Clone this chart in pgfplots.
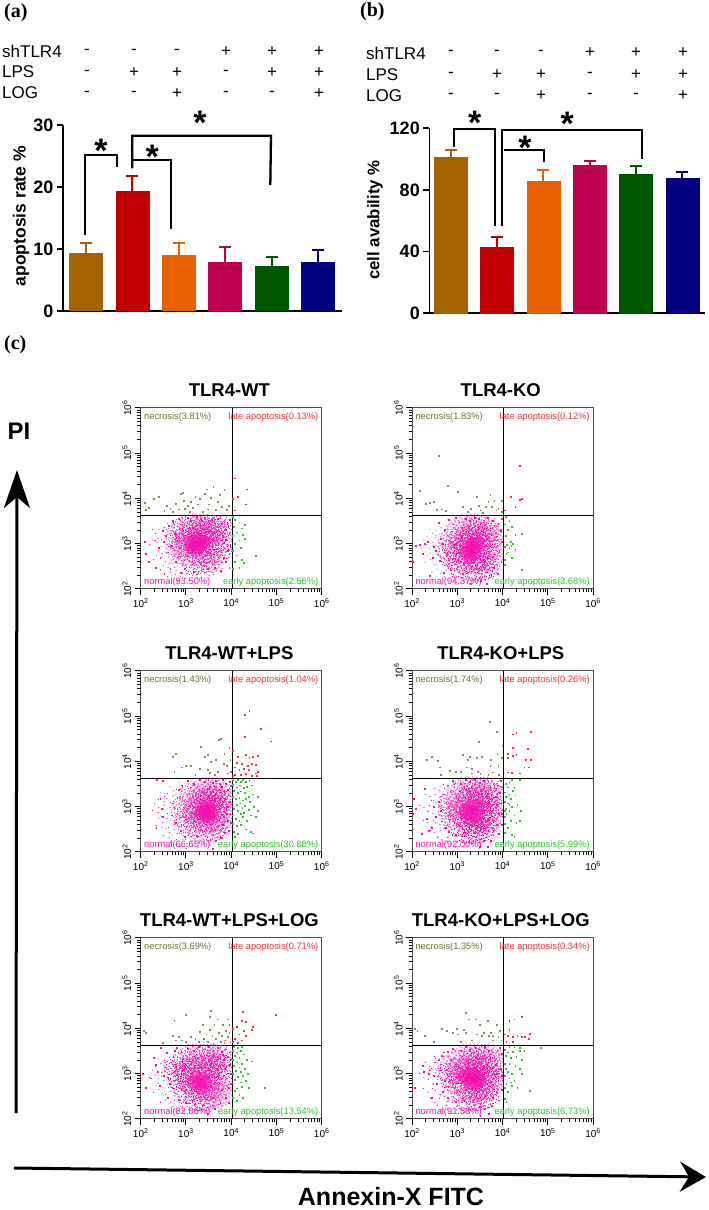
\documentclass[border=0pt]{standalone}
\usepackage{fontspec}
\setmainfont{Liberation Sans}
\newfontfamily\panelfont{Liberation Serif}
\usepackage{pgfplots}
\usepackage{pgfplotstable}
\pgfplotsset{compat=1.18}
\usetikzlibrary{arrows.meta}

\definecolor{cbrown}{HTML}{A56200}
\definecolor{cred}{HTML}{C00000}
\definecolor{corange}{HTML}{E86000}
\definecolor{cpink}{HTML}{BE0050}
\definecolor{cgreen}{HTML}{005500}
\definecolor{cnavy}{HTML}{000080}
\definecolor{fcN}{HTML}{F010AE}
\definecolor{fcO}{HTML}{6F6F30}
\definecolor{fcL}{HTML}{F0303C}
\definecolor{fcE}{HTML}{2EC22E}

% the dense clouds can't be read dot by dot: each row in the "C" and "W" tables is a
% hand-placed patch of the cloud, drawn with these stipple marks, "A" rows are the solid core
\def\sd#1#2{\pgfpathrectangle{\pgfpoint{#1pt}{#2pt}}{\pgfqpoint{0.95pt}{0.95pt}}}
\pgfdeclareplotmark{stipple}{%
  \sd{-10}{2}\sd{-8}{-5}\sd{-7}{6}\sd{-6}{-9}\sd{-5}{1}\sd{-4}{9}\sd{-3}{-3}\sd{-2}{5}\sd{-1}{-11}\sd{0}{-6}
  \sd{0}{2}\sd{1}{10}\sd{2}{-2}\sd{3}{6}\sd{4}{-9}\sd{4}{1}\sd{5}{-5}\sd{6}{9}\sd{7}{-1}\sd{8}{4}
  \sd{9}{-7}\sd{10}{0}\sd{-11}{-2}\sd{-9}{8}\sd{2}{-12}\sd{-3}{12}\sd{11}{6}\sd{6}{-11}\sd{-7}{-11}\sd{-1}{-1}
  \pgfusepathqfill}
\pgfdeclareplotmark{stippleb}{%
  \sd{-12}{-1}\sd{-10}{5}\sd{-9}{-3}\sd{-8}{-8}\sd{-7}{3}\sd{-6}{10}\sd{-5}{-5}\sd{-4}{5}\sd{-3}{-11}\sd{-2}{-2}
  \sd{-1}{7}\sd{-1}{-7}\sd{1}{0}\sd{1}{12}\sd{2}{4}\sd{3}{-5}\sd{3}{-12}\sd{5}{2}\sd{5}{8}\sd{6}{-2}
  \sd{7}{-8}\sd{8}{6}\sd{9}{1}\sd{10}{-4}\sd{11}{3}\sd{-5}{-12}\sd{-11}{7}\sd{7}{11}\sd{12}{-1}\sd{-2}{1}
  \pgfusepathqfill}
\pgfdeclareplotmark{stipplew}{%
  \sd{-42}{3}\sd{-38}{-12}\sd{-36}{14}\sd{-33}{-3}\sd{-31}{-22}\sd{-30}{8}\sd{-27}{20}\sd{-26}{-14}\sd{-24}{-29}\sd{-23}{1}
  \sd{-21}{12}\sd{-20}{-7}\sd{-18}{24}\sd{-17}{-20}\sd{-15}{6}\sd{-14}{-33}\sd{-13}{-11}\sd{-11}{17}\sd{-9}{-26}\sd{-8}{-2}
  \sd{-6}{25}\sd{-5}{-17}\sd{-3}{9}\sd{-2}{-32}\sd{0}{-8}\sd{1}{20}\sd{3}{-24}\sd{5}{2}\sd{6}{-14}\sd{8}{14}
  \sd{10}{-30}\sd{11}{-5}\sd{13}{24}\sd{15}{-19}\sd{17}{6}\sd{19}{-10}\sd{20}{18}\sd{22}{-27}\sd{24}{-2}\sd{26}{11}
  \sd{27}{-17}\sd{29}{22}\sd{31}{-8}\sd{32}{4}
  \pgfusepathqfill}

% ---- TLR4-WT
\pgfplotstableread{
x y
1500 1000
1900 900
1300 800
2000 1100
}\wtW
\pgfplotstableread{
x y
1500 1150
1900 1200
1300 950
1700 1000
2200 950
1500 800
1900 800
2500 1150
}\wtA
\pgfplotstableread{
x y
650 1400
900 2000
1300 2300
1900 2300
2800 2300
4000 2200
5400 2100
800 900
1000 1300
1400 1700
2000 1900
2900 1900
4000 1700
5400 1300
650 650
1000 750
1400 1100
1900 1300
2400 1500
3000 1100
4200 1000
5400 700
1200 550
1800 600
2500 700
3400 650
1500 380
2300 420
3300 420
1000 1000
2000 900
}\wtC
\pgfplotstableread{
x y
120 1100
130 600
150 400
180 2100
200 1200
210 300
250 800
270 500
300 1900
320 1100
330 220
360 1500
400 650
420 2500
450 280
480 900
520 3300
560 1700
600 400
700 3600
750 230
850 3000
950 280
1100 3700
1300 3300
1500 240
1700 3900
2100 3500
2600 3700
3000 280
3700 3400
4300 300
5000 3600
6100 2800
6600 1500
7000 3000
7500 2000
8000 1200
8300 700
8600 2500
9000 1700
9300 3400
9500 900
6800 500
7600 400
5800 250
9000 300
}\wtM
\pgfplotstableread{
x y
120 8000
130 5600
150 6300
190 9800
250 11000
330 5400
380 6800
450 6000
520 5000
600 7600
700 5800
750 12500
830 13500
900 9000
950 6000
1100 7000
1300 8500
1400 6200
1600 11000
1800 7500
2000 9800
2300 5000
2600 12500
2900 16000
3200 7500
3600 10500
4000 18000
4500 5600
5000 8500
5600 12000
6300 6500
7000 15500
7800 5600
8800 6800
1200 5200
3000 5800
}\wtN
\pgfplotstableread{
x y
12000 28000
22000 16000
11000 10000
14000 11000
21000 7500
12000 5500
}\wtL
\pgfplotstableread{
x y
11000 3900
12000 3400
15000 3000
20000 2600
11500 2400
17000 2200
13000 1800
18000 1600
11000 1500
15000 1200
20000 1300
12000 1000
16000 800
11000 700
13000 560
17000 450
12000 400
15000 300
11000 280
35000 550
19000 380
}\wtE

% ---- TLR4-KO
\pgfplotstableread{
x y
1700 800
1300 700
2000 650
1500 1000
}\koW
\pgfplotstableread{
x y
1700 900
2200 950
2700 1000
1600 650
2000 700
2400 600
1900 480
2400 800
}\koA
\pgfplotstableread{
x y
700 1100
1000 1700
1500 2300
2200 2300
3200 2300
4600 2000
5400 1500
650 600
900 800
1200 1200
1600 1400
2200 1500
3000 1600
4000 1200
5400 900
900 480
1200 700
1500 900
2000 1000
2700 1200
3300 800
4500 650
5400 500
1100 320
1500 400
2100 420
2800 480
3600 420
1700 270
2500 280
3500 290
4500 320
}\koC
\pgfplotstableread{
x y
105 400
120 900
150 950
170 600
190 1000
220 1100
240 200
280 500
300 850
330 700
380 2900
400 420
430 1300
470 1000
500 230
520 2000
580 600
640 3400
720 260
800 2700
900 3800
1100 3000
1300 220
1500 3600
1900 3300
2400 3800
3000 3500
3800 3000
4700 3700
6000 3200
6500 2500
7000 1800
7400 1200
8000 2800
8400 700
8900 1900
9300 400
9500 1100
6500 300
7700 220
5600 200
9500 3500
2000 130
3300 150
4500 130
}\koM
\pgfplotstableread{
x y
150 15000
240 8000
300 8500
380 88000
200 7600
450 5800
560 5400
620 19000
1000 14000
1300 6500
1700 5000
2000 6000
2700 11000
3000 7000
3300 5500
4200 6500
4800 8500
5300 12000
5700 6500
6500 9000
7200 5500
8000 6000
9400 5200
9700 9000
350 5600
3600 4800
}\koN
\pgfplotstableread{
x y
24000 52000
15000 11000
24000 9500
27000 10000
19000 6500
11000 5500
}\koL
\pgfplotstableread{
x y
11500 4000
14000 3300
11000 2700
16000 2400
13000 2000
26000 1700
11500 1500
19000 1600
15000 1100
12500 950
17000 1000
11000 850
14000 800
19000 750
12000 600
16000 500
11000 450
26000 270
13000 650
15500 900
11000 350
}\koE

% ---- TLR4-WT+LPS
\pgfplotstableread{
x y
2050 800
1700 1000
2000 620
1500 700
}\wlW
\pgfplotstableread{
x y
2600 800
3300 900
2100 700
2800 650
3700 750
2400 950
3200 600
}\wlA
\pgfplotstableread{
x y
1000 1000
1300 1700
1800 2200
2600 2300
3700 2300
5000 2200
5500 1700
900 650
1300 1000
1800 1300
2300 1500
3100 1500
4000 1500
5400 1200
1000 450
1500 650
1900 900
2500 1100
3300 1100
4200 950
5500 800
1600 400
2200 500
2900 500
3700 550
5000 500
5500 350
2100 300
3000 300
4000 320
3000 800
4500 700
}\wlC
\pgfplotstableread{
x y
220 350
230 3900
270 1500
290 900
300 3800
300 600
480 650
520 1200
550 950
600 450
640 1600
700 2400
750 300
800 3000
950 220
1100 3700
1300 2700
1500 3300
1700 230
2000 3900
2600 3500
3100 3900
3900 3400
4600 3800
5500 3300
6200 2800
6600 3900
7000 2300
7300 1500
7500 3300
8000 1000
8300 2400
8500 500
8800 1800
9100 3600
9300 1300
9500 700
9700 2900
6400 400
7200 270
8900 300
9800 450
5800 210
3900 120
4500 180
6800 600
7800 700
8600 1000
}\wlM
\pgfplotstableread{
x y
500 13000
600 15000
550 6000
800 7500
1000 8000
1300 8000
1600 5000
2100 21000
2000 7000
2600 12500
3000 14000
3300 5600
3500 10000
4300 5000
5000 6000
5200 30000
5900 32000
4500 11000
6800 9000
7000 15000
8000 8000
8200 5500
9000 20000
9700 6000
9500 11000
3000 6500
}\wlN
\pgfplotstableread{
x y
20000 110000
25000 130000
44000 52000
20000 36000
75000 28000
11000 17000
14000 13000
21000 14000
25000 12000
30000 13000
38000 13500
35000 8500
13000 9500
17000 9000
23000 8000
28000 9000
12000 7500
19000 7000
15000 6500
24000 6500
35000 5500
39000 6000
12000 5000
16000 5200
21000 5300
29000 4900
36000 4800
11000 4800
}\wlL
\pgfplotstableread{
x y
11000 4000
12500 3600
14000 3900
16000 3500
18000 4000
21000 3500
25000 3700
28000 3000
11000 3100
13000 2700
15500 3000
18500 2600
22000 2800
25000 2200
11500 2300
14000 2000
16500 2200
20000 2000
24000 1700
30000 1900
38000 1700
11000 1700
12500 1500
15000 1600
18000 1400
21000 1500
26000 1300
32000 1000
11000 1200
13000 1100
15500 1200
17500 950
20000 1050
24000 850
38000 800
11500 900
14000 800
16000 700
19000 750
27000 650
11000 650
12500 550
15000 500
18000 600
22000 500
11000 420
13500 380
16000 400
21000 320
27000 280
11500 280
14000 250
12000 220
30000 260
35000 600
}\wlE

% ---- TLR4-KO+LPS
\pgfplotstableread{
x y
2000 900
1500 800
1800 650
1200 900
}\klW
\pgfplotstableread{
x y
1800 950
2300 1050
1700 700
2200 750
2800 900
2000 550
2700 600
1500 850
}\klA
\pgfplotstableread{
x y
700 1100
1000 1700
1400 2300
2000 2300
3000 2300
4300 2300
5400 2000
700 700
1000 1000
1300 1400
1900 1500
2700 1600
3600 1500
5000 1400
5400 900
900 550
1200 750
1500 1000
2400 1200
3200 1100
4300 900
5400 600
1100 400
1500 500
2000 400
2600 450
3500 600
4400 500
1800 280
2600 290
3500 320
4600 300
}\klC
\pgfplotstableread{
x y
105 700
110 1500
120 900
160 250
190 2500
210 550
230 300
270 350
300 1000
330 600
380 1300
420 800
450 480
500 1900
560 350
600 3000
650 280
800 3700
900 240
1200 3300
1500 3900
1900 3500
2400 3900
3100 3400
3900 3800
4800 3500
6200 3200
6500 2600
6900 1700
7300 1100
7700 3000
8100 700
8500 2000
8900 3700
9200 1200
9500 400
6200 300
7300 400
8200 250
9700 2700
9600 700
3100 130
3900 180
4700 130
5500 180
}\klM
\pgfplotstableread{
x y
210 11000
270 13000
370 10500
400 7500
430 5000
680 6200
900 6000
1200 6000
1300 14000
1600 7500
1700 11000
1900 13000
2100 7000
2100 5500
2800 6000
3000 27000
2700 12000
3200 5400
3500 13000
5200 75000
5300 8000
5500 11000
7500 45000
7600 15000
8000 8000
8300 5000
9800 22000
9500 12000
6000 5800
4800 5000
}\klN
\pgfplotstableread{
x y
17000 40000
20000 44000
42000 45000
17000 20000
36000 19000
13000 15000
17000 13500
20000 14000
13000 12000
33000 11000
42000 11000
30000 7500
37000 7500
13000 5800
16000 5600
24000 5500
}\klL
\pgfplotstableread{
x y
16000 4000
24000 4000
11500 3300
14000 3600
13000 2700
18000 2600
11000 2100
14000 1900
17000 2300
11500 1700
15000 1500
19000 1800
11000 1300
13000 1200
16000 1000
21000 1100
11500 900
14000 800
25000 800
12000 700
18000 650
11000 600
15000 500
20000 450
11000 420
13000 350
16000 240
18000 220
11000 270
24000 500
14000 1100
11000 800
}\klE

% ---- TLR4-WT+LPS+LOG
\pgfplotstableread{
x y
1700 800
2000 650
1300 700
1500 1000
}\wgW
\pgfplotstableread{
x y
1700 850
2300 800
1500 650
2000 600
2700 650
2200 480
}\wgA
\pgfplotstableread{
x y
600 1200
900 1700
1300 2300
1900 2300
2800 2300
4100 2300
5400 2200
700 850
1000 1100
1400 1400
2000 1400
2800 1500
3800 1500
5400 1400
800 550
1100 750
1500 1000
2600 1000
3300 900
4500 1000
5400 800
1000 400
1500 450
2100 380
2800 450
3700 550
4800 500
1600 280
2400 280
3300 300
4500 320
5500 350
}\wgC
\pgfplotstableread{
x y
110 1000
130 500
170 800
190 2300
210 1600
240 1100
260 550
280 3800
320 900
340 1400
370 2900
400 300
430 600
470 1800
520 480
560 3300
620 3700
700 270
800 3000
1000 230
1100 3600
1500 3200
1900 3900
2500 3500
3200 3900
4000 3300
5000 3800
6200 3100
6500 2600
6900 2000
7200 1300
7600 3500
8000 800
8400 2400
8700 500
9100 1600
9400 3000
9600 1000
6300 450
7400 300
8900 230
9700 600
5700 230
9600 2100
3000 130
4300 170
}\wgM
\pgfplotstableread{
x y
115 9000
130 8000
300 4800
500 7000
550 15000
600 5500
680 6500
800 5500
1000 20000
1000 5000
1300 6500
1600 6000
1900 5000
2000 8500
2300 12000
2500 6000
2800 7500
3000 5000
3300 18000
3600 25000
3400 9500
3800 7000
4200 12000
4600 6000
5000 16000
5300 8000
5800 5000
6200 7000
6600 12000
7200 5500
7600 9000
8200 16000
8500 6500
9000 12000
9500 5000
9000 8000
4000 4700
7000 4900
}\wgN
\pgfplotstableread{
x y
95000 20000
18000 24000
17000 15000
13000 11000
11000 10000
21000 14000
30000 11000
19000 9000
15000 7500
21000 7000
12000 6000
17000 5500
11000 5000
28000 9500
14000 4800
}\wgL
\pgfplotstableread{
x y
11500 4000
14000 3700
17000 4000
11000 3300
13000 3000
16000 3200
19000 2700
12000 2500
15000 2300
22000 2000
29000 1900
11000 2000
13500 1800
17000 1700
11500 1500
15000 1400
20000 1300
12500 1150
16000 1100
23000 1000
11000 1000
14000 850
18000 900
12000 750
16000 650
21000 700
11000 620
13500 480
17000 520
12000 420
15000 350
18000 300
11000 300
55000 500
13000 250
24000 500
}\wgE

% ---- TLR4-KO+LPS+LOG
\pgfplotstableread{
x y
1900 850
1500 700
2000 1050
1200 850
}\kgW
\pgfplotstableread{
x y
1800 1000
2300 1000
1600 750
2100 800
2700 850
2000 600
2600 600
1400 900
3200 700
}\kgA
\pgfplotstableread{
x y
600 1300
1000 1700
1500 2300
2200 2300
3200 2300
4600 2300
5400 1800
650 900
1000 1100
1300 1500
1900 1500
2700 1500
3700 1300
5000 1200
5400 800
900 650
1200 750
1500 1100
2500 1200
3300 1000
4300 800
5400 550
1100 450
1500 500
2000 420
2700 450
3600 550
4500 500
1600 290
2400 280
3300 300
4300 320
}\kgC
\pgfplotstableread{
x y
115 500
170 1500
180 1100
230 1000
250 1200
270 300
300 900
320 1800
350 600
390 2000
420 1200
460 2500
480 400
520 700
600 300
620 3100
700 2000
800 3600
900 240
1200 3200
1500 3900
1900 3400
2500 3800
3100 3500
4000 3900
5000 3300
6100 3000
6500 2400
6900 1600
7300 1000
7600 3200
8000 700
8400 2100
8800 3700
9200 1300
9500 450
9600 2800
6000 300
7200 400
8300 260
9700 900
3200 120
4000 170
5000 130
5700 200
}\kgM
\pgfplotstableread{
x y
115 10000
130 9000
190 7000
300 5000
450 10000
580 9000
800 8000
950 10000
1000 7500
1400 9500
1500 22000
1500 8000
1800 16000
2100 5500
2500 16000
2700 7500
3100 12000
3500 7000
3800 8000
4700 15000
5000 7000
5500 8000
6000 7000
7500 12000
8000 6500
8500 9000
9300 5500
1200 5000
6000 5500
}\kgN
\pgfplotstableread{
x y
14000 15000
18000 16000
26000 18000
14000 9500
11000 7500
13000 7000
17000 6500
21000 7000
26000 6500
31000 6500
40000 7800
38000 6000
17000 5000
12000 5000
}\kgL
\pgfplotstableread{
x y
14000 4000
18000 3900
24000 3800
11000 3400
13000 3000
17000 3100
24000 3200
30000 3300
11500 2500
15000 2300
20000 2400
26000 2000
11000 1700
14000 1700
19000 1500
24000 1300
11500 1300
13000 1100
16000 1000
26000 1000
11000 900
14000 800
18000 700
12000 600
16000 550
21000 500
11000 500
13000 400
40000 420
11000 280
12000 240
70000 3800
15000 650
}\kgE

\pgfplotsset{
  barplot/.style={
    ybar, scale only axis, enlargelimits=false, ymin=0,
    axis x line=bottom, axis y line=left, axis line style={-,line width=1.6pt},
    xtick=\empty, tick align=outside, major tick length=6pt,
    ytick style={black,line width=1.6pt},
    tick label style={font=\fontsize{18}{18}\selectfont\bfseries},
    /pgf/number format/assume math mode=true,
    bar width=33pt},
  barser/.style={fill=#1,draw=#1,bar shift=0pt,
    error bars/.cd,y dir=plus,y explicit,
    error bar style={#1,line width=2pt},
    error mark options={#1,rotate=90,mark size=6pt,line width=2pt}},
  flowax/.style={
    scale only axis, width=181pt, height=181pt, anchor=south west,
    log basis x=10, log basis y=10,
    xmin=100, xmax=1000000, ymin=100, ymax=1000000,
    xtick={100,1000,10000,100000,1000000}, ytick={100,1000,10000,100000,1000000},
    xminorticks=false, yminorticks=false,
    extra x ticks={200,300,400,500,600,700,800,900,2000,3000,4000,5000,6000,7000,8000,9000,20000,30000,40000,50000,60000,70000,80000,90000,200000,300000,400000,500000,600000,700000,800000,900000},
    extra y ticks={200,300,400,500,600,700,800,900,2000,3000,4000,5000,6000,7000,8000,9000,20000,30000,40000,50000,60000,70000,80000,90000,200000,300000,400000,500000,600000,700000,800000,900000},
    extra x tick labels={}, extra y tick labels={},
    extra x tick style={major tick length=3.5pt,tick pos=left},
    extra y tick style={major tick length=3.5pt,tick pos=left},
    axis line style={black!70,line width=1pt},
    tick pos=left, tick align=outside,
    major tick length=6pt,
    tick style={black,line width=1pt},
    xticklabel={10\textsuperscript{\pgfmathparse{int(round(\tick))}\pgfmathresult}},
    yticklabel={10\textsuperscript{\pgfmathparse{int(round(\tick))}\pgfmathresult}},
    tick label style={font=\fontsize{10}{10}\selectfont},
    yticklabel style={rotate=90,anchor=south},
    title style={at={(axis description cs:0.49,1.068)},anchor=center,
      font=\fontsize{18.5}{19}\selectfont\bfseries}},
  fdots/.style={only marks,mark=square*,mark size=0.43pt,color=#1,mark options={draw=none,fill=#1}},
  fpatch/.style={only marks,mark=#1,color=fcN,mark options={draw=none,fill=fcN}},
  fblob/.style={only marks,mark=*,mark size=6pt,color=fcN,mark options={draw=none,fill=fcN,fill opacity=0.45}},
  qrule/.style={black,line width=0.9pt},
  brk/.style={black,line width=2.3pt}
}
\tikzset{qtext/.style={font=\fontsize{9.3}{10}\selectfont,inner sep=0pt}}

\def\plotT#1#2{\expandafter\plotTi\csname #1\endcsname{#2}}
\def\plotTi#1#2{\addplot[#2] table {#1};}

% x, y of lower left corner, title, table prefix, four quadrant texts
\newcommand{\flowpanel}[8]{%
  \begin{loglogaxis}[flowax,at={(#1pt,#2pt)},title={#3}]
    \plotT{#4A}{fblob}
    \plotT{#4W}{fpatch=stipplew}
    \plotT{#4C}{fpatch=stipple}
    \plotT{#4C}{fpatch=stippleb}
    \plotT{#4M}{fdots=fcN}
    \plotT{#4N}{fdots=fcO!80}
    \plotT{#4L}{fdots=fcL}
    \plotT{#4E}{fdots=fcE}
    \addplot[qrule] coordinates {(10600,100) (10600,1000000)};
    \addplot[qrule] coordinates {(100,4270) (1000000,4270)};
    \node[qtext,anchor=west,text=fcO] at (rel axis cs:0.018,0.95) {#5};
    \node[qtext,anchor=east,text=fcL] at (rel axis cs:0.982,0.95) {#6};
    \node[qtext,anchor=west,text=fcN] at (rel axis cs:0.018,0.037) {#7};
    \node[qtext,anchor=east,text=fcE] at (rel axis cs:0.982,0.037) {#8};
  \end{loglogaxis}}

\begin{document}
\begin{tikzpicture}[x=1pt,y=1pt]
\path[use as bounding box] (0,0) rectangle (709,1210);

% (a)
\begin{axis}[barplot,at={(63pt,899pt)},anchor=south west,width=279pt,height=186pt,
    xmin=-0.496,xmax=5.52,ymax=30,ytick={0,10,20,30},ylabel={apoptosis rate \%},
    ylabel style={at={(axis description cs:-0.15,0.51)},anchor=center,font=\fontsize{17.5}{18}\selectfont\bfseries}]
  \addplot[barser=cbrown] coordinates {(0,9.4) +- (0,1.5)};
  \addplot[barser=cred] coordinates {(1,19.3) +- (0,2.5)};
  \addplot[barser=corange] coordinates {(2,9.0) +- (0,1.9)};
  \addplot[barser=cpink] coordinates {(3,7.9) +- (0,2.5)};
  \addplot[barser=cgreen] coordinates {(4,7.2) +- (0,1.5)};
  \addplot[barser=cnavy] coordinates {(5,7.8) +- (0,2.1)};
\end{axis}

% (b)
\begin{axis}[barplot,at={(429.3pt,896.7pt)},anchor=south west,width=275.7pt,height=185pt,
    xmin=-0.462,xmax=5.49,ymax=120,ytick={0,40,80,120},ylabel={cell avability \%},
    ylabel style={at={(axis description cs:-0.197,0.504)},anchor=center,font=\fontsize{16.8}{17}\selectfont\bfseries}]
  \addplot[barser=cbrown] coordinates {(0,101) +- (0,4.7)};
  \addplot[barser=cred] coordinates {(1,43) +- (0,6.5)};
  \addplot[barser=corange] coordinates {(2,85.4) +- (0,7.8)};
  \addplot[barser=cpink] coordinates {(3,96) +- (0,2.6)};
  \addplot[barser=cgreen] coordinates {(4,90.2) +- (0,5.4)};
  \addplot[barser=cnavy] coordinates {(5,87.4) +- (0,4.1)};
\end{axis}

% (c)
\flowpanel{140.7}{621}{TLR4-WT}{wt}{necrosis(3.81\%)}{late apoptosis(0.13\%)}{normal(93.50\%)}{early apoptosis(2.56\%)}
\flowpanel{412.1}{621}{TLR4-KO}{ko}{necrosis(1.83\%)}{late apoptosis(0.12\%)}{normal(94.37\%)}{early apoptosis(3.68\%)}
\flowpanel{140.7}{358}{TLR4-WT+LPS}{wl}{necrosis(1.43\%)}{late apoptosis(1.04\%)}{normal(66.65\%)}{early apoptosis(30.88\%)}
\flowpanel{412.1}{358}{TLR4-KO+LPS}{kl}{necrosis(1.74\%)}{late apoptosis(0.26\%)}{normal(92.00\%)}{early apoptosis(5.99\%)}
\flowpanel{140.7}{91}{TLR4-WT+LPS+LOG}{wg}{necrosis(3.69\%)}{late apoptosis(0.71\%)}{normal(82.06\%)}{early apoptosis(13.54\%)}
\flowpanel{412.1}{91}{TLR4-KO+LPS+LOG}{kg}{necrosis(1.35\%)}{late apoptosis(0.34\%)}{normal(91.58\%)}{early apoptosis(6.73\%)}

% everything else in reference pixel coordinates
\begin{axis}[at={(0pt,0pt)},anchor=south west,scale only axis,width=709pt,height=1210pt,
    xmin=0,xmax=709,ymin=0,ymax=1210,y dir=reverse,hide axis,clip=false]
  \addplot[brk] coordinates {(84.7,235) (84.7,154.7) (116.7,154.7) (116.7,166.7)};
  \addplot[brk] coordinates {(132.3,168.3) (132.3,135.7) (271,135.7) (270.3,185)};
  \addplot[brk] coordinates {(132.3,160.3) (171,160.3) (171,229.3)};
  \addplot[brk] coordinates {(454.3,146.7) (454.3,129.3) (494.7,129.3) (494.7,226)};
  \addplot[brk] coordinates {(502.3,226) (502.3,130) (642.3,130) (642.3,159.3)};
  \addplot[brk] coordinates {(504,150) (544,150) (544,161.7)};
  \addplot[black,line width=3pt,-{Stealth[length=38pt,width=26pt,inset=11pt]}] coordinates {(16,1113) (17,470)};
  \addplot[black,line width=3pt,-{Stealth[length=26pt,width=30pt,inset=9pt]}] coordinates {(14,1168) (706,1177)};

  \foreach \x/\y in {101/145,200/117,152.3/150.7,474.7/117.3,567.3/118.3,525/141.7}{%
    \edef\tmp{\noexpand\node[font=\noexpand\fontsize{34}{34}\noexpand\selectfont\noexpand\bfseries,anchor=north,inner sep=0pt,yshift=6pt] at (axis cs:\x,\y) {*};}\tmp}

  \node[font=\fontsize{20}{20}\selectfont\panelfont\bfseries,anchor=west,inner sep=0pt] at (axis cs:4,13) {(a)};
  \node[font=\fontsize{20}{20}\selectfont\panelfont\bfseries,anchor=west,inner sep=0pt] at (axis cs:360,12) {(b)};
  \node[font=\fontsize{20}{20}\selectfont\panelfont\bfseries,anchor=west,inner sep=0pt] at (axis cs:4,345) {(c)};

  \node[font=\fontsize{17}{17}\selectfont,anchor=west,inner sep=0pt] at (axis cs:2,51) {shTLR4};
  \node[font=\fontsize{17}{17}\selectfont,anchor=west,inner sep=0pt] at (axis cs:2,72) {LPS};
  \node[font=\fontsize{17}{17}\selectfont,anchor=west,inner sep=0pt] at (axis cs:2,93) {LOG};
  \node[font=\fontsize{17}{17}\selectfont,anchor=west,inner sep=0pt] at (axis cs:366,53) {shTLR4};
  \node[font=\fontsize{17}{17}\selectfont,anchor=west,inner sep=0pt] at (axis cs:366,75) {LPS};
  \node[font=\fontsize{17}{17}\selectfont,anchor=west,inner sep=0pt] at (axis cs:366,96) {LOG};

  \foreach \x/\y/\s in {87/52/-,134/52/-,177/52/-,226/52/+,272/52/+,319/52/+,
                        87/73/-,134/73/+,177/73/+,226/73/-,272/73/+,319/73/+,
                        87/94/-,134/94/-,177/94/+,226/94/-,272/94/-,319/94/+,
                        451/53/-,497/53/-,541/53/-,590/53/+,636/53/+,683/53/+,
                        451/75/-,497/75/+,541/75/+,590/75/-,636/75/+,683/75/+,
                        451/96/-,497/96/-,541/96/+,590/96/-,636/96/-,683/96/+}{%
    \edef\tmp{\noexpand\node[font=\noexpand\fontsize{17}{17}\noexpand\selectfont,inner sep=0pt] at (axis cs:\x,\y) {\s};}\tmp}

  \node[font=\fontsize{24}{24}\selectfont\bfseries] at (axis cs:19,431) {PI};
  \node[font=\fontsize{25}{25}\selectfont\bfseries] at (axis cs:391,1197) {Annexin-X FITC};
\end{axis}
\end{tikzpicture}
\end{document}
